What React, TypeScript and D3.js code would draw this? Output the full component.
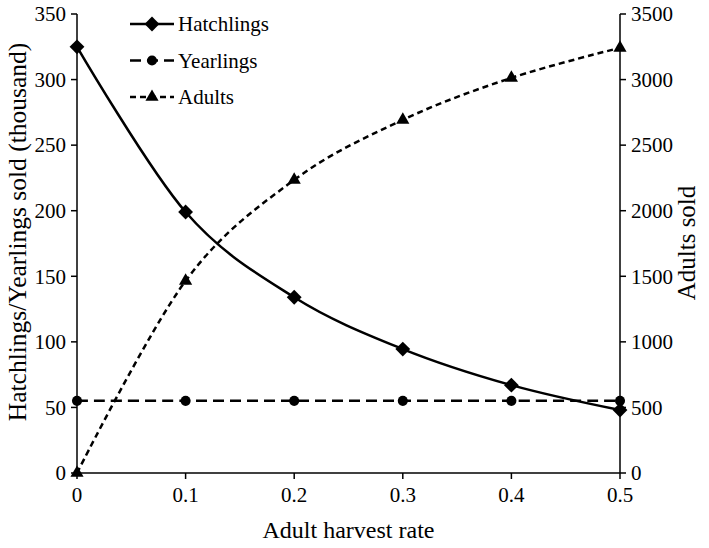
import React from 'react';
import * as d3 from 'd3';

const rates = [0, 0.1, 0.2, 0.3, 0.4, 0.5];
const hatchlings = [325, 199, 134, 94.5, 67, 48];
const yearlings = [55, 55, 55, 55, 55, 55];
const adults = [0, 1465, 2235, 2693, 3013, 3242];
const leftTicks = [0, 50, 100, 150, 200, 250, 300, 350];
const rightTicks = [0, 500, 1000, 1500, 2000, 2500, 3000, 3500];

const W = 709;
const H = 548;
const m = { left: 77, right: 89, top: 14, bottom: 75 };
const font = '"Liberation Serif", "Times New Roman", serif';

const diamond = d3.symbol().type(d3.symbolDiamond2 || d3.symbolDiamond).size(140);
const circle = d3.symbol().type(d3.symbolCircle).size(80);
const triangle = d3.symbol().type(d3.symbolTriangle).size(75);

const series = [
  { name: 'Hatchlings', values: hatchlings, axis: 'left', dash: 'none', marker: diamond },
  { name: 'Yearlings', values: yearlings, axis: 'left', dash: '11,6', marker: circle },
  { name: 'Adults', values: adults, axis: 'right', dash: '6,4', marker: triangle },
];

const App = () => {
  const x = d3.scaleLinear().domain([0, 0.5]).range([m.left, W - m.right]);
  const yL = d3.scaleLinear().domain([0, 350]).range([H - m.bottom, m.top]);
  const yR = d3.scaleLinear().domain([0, 3500]).range([H - m.bottom, m.top]);
  const x0 = x(0);
  const x1 = x(0.5);
  const yb = yL(0);

  return (
    <svg width={W} height={H} style={{ position: 'absolute', left: 0, top: 0, background: '#fff' }} fontFamily={font}>
      {/* axes */}
      <g stroke="#000" strokeWidth={1.5}>
        <line x1={x0} x2={x0} y1={yL(350)} y2={yb} />
        <line x1={x1} x2={x1} y1={yR(3500)} y2={yb} />
        <line x1={x0} x2={x1} y1={yb} y2={yb} />
        {leftTicks.map(t => <line key={'l' + t} x1={x0 - 6} x2={x0} y1={yL(t)} y2={yL(t)} />)}
        {rightTicks.map(t => <line key={'r' + t} x1={x1} x2={x1 + 6} y1={yR(t)} y2={yR(t)} />)}
        {rates.map(t => <line key={'x' + t} x1={x(t)} x2={x(t)} y1={yb} y2={yb + 6} />)}
      </g>
      <g fontSize={21} fill="#000">
        {leftTicks.map(t => (
          <text key={'lt' + t} x={x0 - 11} y={yL(t)} dy="0.35em" textAnchor="end">{t}</text>
        ))}
        {rightTicks.map(t => (
          <text key={'rt' + t} x={x1 + 11} y={yR(t)} dy="0.35em" textAnchor="start">{t}</text>
        ))}
        {rates.map(t => (
          <text key={'xt' + t} x={x(t)} y={yb + 29} textAnchor="middle">{t}</text>
        ))}
      </g>
      <g fill="#000">
        <text x={(x0 + x1) / 2} y={538} fontSize={24} textAnchor="middle">Adult harvest rate</text>
        <text transform="translate(26,232) rotate(-90)" fontSize={25.5} textAnchor="middle">
          Hatchlings/Yearlings sold (thousand)
        </text>
        <text transform="translate(695,243) rotate(-90)" fontSize={25} textAnchor="middle">Adults sold</text>
      </g>

      {/* lines */}
      {series.map(s => {
        const y = s.axis === 'left' ? yL : yR;
        const line = d3.line<number>()
          .x((_, i) => x(rates[i]))
          .y(v => y(v))
          .curve(d3.curveCatmullRom.alpha(0));
        return (
          <g key={s.name}>
            <path d={line(s.values) || ''} fill="none" stroke="#000" strokeWidth={2.5} strokeDasharray={s.dash} />
            {s.values.map((v, i) => (
              <path key={i} d={s.marker() || ''} transform={`translate(${x(rates[i])},${y(v)})`} fill="#000" />
            ))}
          </g>
        );
      })}

      {/* legend */}
      {series.map((s, i) => {
        const ly = 24 + i * 36.5;
        return (
          <g key={'lg' + s.name}>
            <line x1={130} x2={174} y1={ly} y2={ly} stroke="#000" strokeWidth={2.5} strokeDasharray={s.dash} />
            <path d={s.marker() || ''} transform={`translate(152,${ly})`} fill="#000" />
            <text x={178} y={ly} dy="0.35em" fontSize={21}>{s.name}</text>
          </g>
        );
      })}
    </svg>
  );
};

export default App;
